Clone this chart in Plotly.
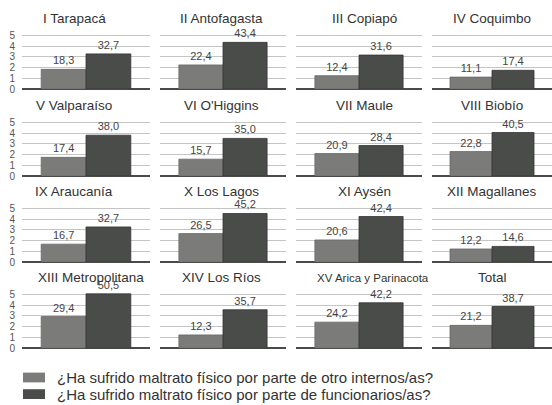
import plotly.graph_objects as go

# Regions of Chile (plus the national total)
regions = [
    "I Tarapacá", "II Antofagasta", "III Copiapó", "IV Coquimbo",
    "V Valparaíso", "VI O'Higgins", "VII Maule", "VIII Biobío",
    "IX Araucanía", "X Los Lagos", "XI Aysén", "XII Magallanes",
    "XIII Metropolitana", "XIV Los Ríos", "XV Arica y Parinacota", "Total",
]
# % reporting physical abuse by other inmates
internos = [18.3, 22.4, 12.4, 11.1, 17.4, 15.7, 20.9, 22.8,
            16.7, 26.5, 20.6, 12.2, 29.4, 12.3, 24.2, 21.2]
# % reporting physical abuse by prison staff
funcionarios = [32.7, 43.4, 31.6, 17.4, 38.0, 35.0, 28.4, 40.5,
                32.7, 45.2, 42.4, 14.6, 50.5, 35.7, 42.2, 38.7]

series_names = [
    "¿Ha sufrido maltrato físico por parte de otro internos/as?",
    "¿Ha sufrido maltrato físico por parte de funcionarios/as?",
]
y_ticks = [0, 10, 20, 30, 40, 50]
y_tick_labels = ["0", "1", "2", "3", "4", "5"]

W, H = 552, 405
FONT = "Liberation Sans, Arial, Helvetica, sans-serif"
COLORS = ["#7b7c7a", "#4a4c4a"]
EDGES = ["#666766", "#333433"]

# panel geometry in pixels
col_px = [(22, 150), (160, 286), (296, 422), (432, 552)]
row_base_px = [88, 177, 265, 353]       # pixel row of the zero line
PX_PER_UNIT = 55 / 50                   # 50 -> 55 px
Y_MAX = 52
title_x_px = [74, 221, 364, 492]


def fmt(v):
    return f"{v:.1f}".replace(".", ",")


fig = go.Figure()
annotations = []
shapes = []

for i, name in enumerate(regions):
    r, c = divmod(i, 4)
    suffix = "" if i == 0 else str(i + 1)
    xa, ya = "x" + suffix, "y" + suffix

    for s, vals in enumerate([internos, funcionarios]):
        fig.add_trace(go.Bar(
            x=[name], y=[vals[i]],
            name=series_names[s],
            legendgroup=f"s{s}",
            showlegend=False,
            marker=dict(color=COLORS[s], line=dict(color=EDGES[s], width=0.8)),
            text=[fmt(vals[i])],
            textposition="outside",
            textfont=dict(family=FONT, size=11, color="#444444"),
            constraintext="none",
            cliponaxis=False,
            xaxis=xa, yaxis=ya,
            hovertemplate="%{x}: %{y:.1f}<extra></extra>",
        ))

    x0, x1 = col_px[c]
    base = row_base_px[r]
    top = base - Y_MAX * PX_PER_UNIT
    fig.layout["xaxis" + suffix] = dict(
        domain=[x0 / W, x1 / W], anchor=ya,
        showticklabels=False, showgrid=False, zeroline=False,
        showline=False, ticks="", fixedrange=True,
    )
    fig.layout["yaxis" + suffix] = dict(
        domain=[1 - base / H, 1 - top / H], anchor=xa,
        range=[0, Y_MAX],
        tickvals=y_ticks, ticktext=y_tick_labels,
        showticklabels=(c == 0),
        tickfont=dict(family=FONT, size=10, color="#555555"),
        ticks="", ticklabelstandoff=6,
        showgrid=True, gridcolor="#c4c4c4", gridwidth=1,
        zeroline=True, zerolinecolor="#4a4a4a", zerolinewidth=1.5,
        showline=False, fixedrange=True,
    )

    tx = title_x_px[c]
    size = 13.5
    if name.startswith("XIII"):
        tx = 91
    if name.startswith("XV "):
        tx = 373
        size = 11.5
    annotations.append(dict(
        text=name, x=tx / W, y=1 - (base - 50 * PX_PER_UNIT - 17) / H,
        xref="paper", yref="paper", xanchor="center", yanchor="middle",
        showarrow=False, font=dict(family=FONT, size=size, color="#333333"),
    ))

# legend drawn below the panels: swatch + caption per series
legend_rows_px = [383, 400]
for s, label in enumerate(series_names):
    yc = legend_rows_px[s]
    shapes.append(dict(
        type="rect", xref="paper", yref="paper",
        x0=23 / W, x1=45 / W, y0=1 - (yc + 5) / H, y1=1 - (yc - 5) / H,
        fillcolor=COLORS[s], line=dict(width=0),
    ))
    annotations.append(dict(
        text=label, x=55 / W, y=1 - yc / H,
        xref="paper", yref="paper", xanchor="left", yanchor="middle",
        showarrow=False, font=dict(family=FONT, size=15, color="#333333"),
    ))

fig.update_layout(
    width=W, height=H,
    margin=dict(l=0, r=0, t=0, b=0),
    paper_bgcolor="white", plot_bgcolor="white",
    barmode="group", bargap=0.3, bargroupgap=0,
    annotations=annotations,
    shapes=shapes,
    showlegend=False,
)

fig.write_html("out.html")
